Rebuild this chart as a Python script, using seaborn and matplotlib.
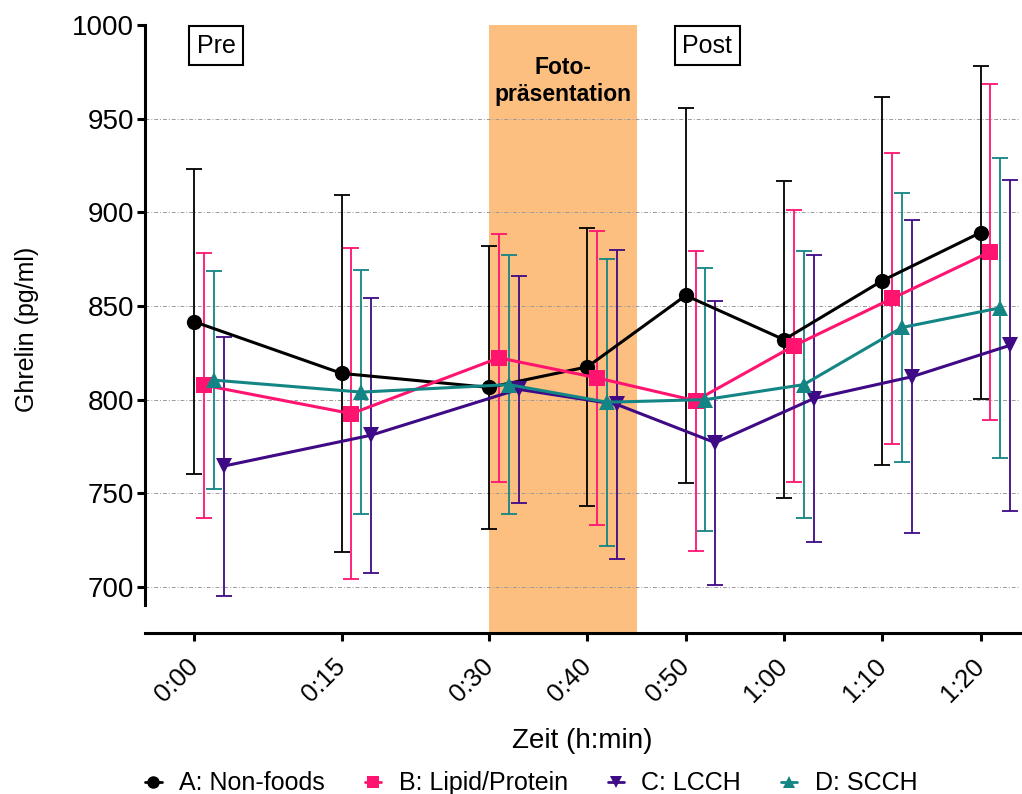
import matplotlib
matplotlib.use('Agg')
import matplotlib.pyplot as plt
import numpy as np
import pandas as pd
import seaborn as sns
from matplotlib.lines import Line2D

# ---------------- data ----------------
times = [0, 15, 30, 40, 50, 60, 70, 80]
tick_labels = ['0:00', '0:15', '0:30', '0:40', '0:50', '1:00', '1:10', '1:20']
groups = ['A: Non-foods', 'B: Lipid/Protein', 'C: LCCH', 'D: SCCH']

mean_a = [841.6, 814.0, 806.5, 817.5, 855.6, 832.0, 863.5, 889.2]
sd_a = [81.4, 95.5, 75.5, 74.3, 100.2, 84.6, 98.2, 88.9]
mean_b = [807.7, 792.5, 822.3, 811.6, 799.4, 828.7, 854.0, 879.0]
sd_b = [70.7, 88.5, 66.1, 78.6, 80.2, 72.5, 77.8, 89.7]
mean_c = [764.5, 781.0, 805.5, 797.4, 777.0, 800.5, 812.2, 829.0]
sd_c = [69.1, 73.4, 60.5, 82.6, 75.8, 76.5, 83.5, 88.5]
mean_d = [810.4, 804.0, 808.0, 798.6, 800.0, 808.0, 838.5, 849.0]
sd_d = [58.1, 65.2, 69.1, 76.7, 70.2, 71.2, 71.9, 80.1]

means = [mean_a, mean_b, mean_c, mean_d]
sds = [sd_a, sd_b, sd_c, sd_d]

# ---------------- styling ----------------
x_offsets = [0, 1, 3, 2]          # horizontal nudge (minutes) per group
colors = ['#000000', '#FF1470', '#3F0A85', '#138584']
markers = ['o', 's', 'v', '^']
band_color = '#FDBF80'

sns.set_theme(style='ticks')
plt.rcParams['font.family'] = ['Liberation Sans', 'DejaVu Sans']
for key in ['text.color', 'axes.labelcolor', 'xtick.color', 'ytick.color']:
    plt.rcParams[key] = 'black'

rows = []
for g, off, m, s in zip(groups, x_offsets, means, sds):
    for t, mv, sv in zip(times, m, s):
        rows.append({'group': g, 'x': t + off, 'mean': mv, 'sd': sv})
df = pd.DataFrame(rows)

fig = plt.figure(figsize=(10.22, 7.94), dpi=100)
ax = fig.add_axes([0.1419, 0.2028, 0.8561, 0.7657])

ax.set_xlim(-5, 84)
ax.set_ylim(675.4, 1000)

# presentation band
ax.axvspan(30, 45, color=band_color, zorder=0, lw=0)

# grid lines
for yv in [700, 750, 800, 850, 900, 950]:
    ax.axhline(yv, color='#9a9a9a', lw=0.7, ls=(0, (4, 2, 1, 2)), zorder=0.5)

# error bars
for g, c in zip(groups, colors):
    sub = df[df['group'] == g]
    ax.errorbar(sub['x'], sub['mean'], yerr=sub['sd'], fmt='none', ecolor=c,
                elinewidth=1.3, capsize=5.5, capthick=1.3, zorder=2)

# lines with markers
sns.lineplot(data=df, x='x', y='mean', hue='group', style='group',
             hue_order=groups, style_order=groups,
             palette=dict(zip(groups, colors)),
             markers=dict(zip(groups, markers)), dashes=False,
             markersize=11, markeredgewidth=0, linewidth=2.2,
             errorbar=None, sort=False, legend=False, ax=ax, zorder=3)

# axes styling
sns.despine(ax=ax)
ax.spines['left'].set_bounds(690.4, 1000)
for sp in ['left', 'bottom']:
    ax.spines[sp].set_linewidth(2.2)
    ax.spines[sp].set_color('black')
ax.set_yticks([700, 750, 800, 850, 900, 950, 1000])
ax.set_xticks(times)
ax.set_xticklabels(tick_labels, rotation=45, ha='right', va='center',
                   rotation_mode='anchor', fontsize=18.5)
ax.tick_params(axis='both', direction='out', length=6, width=2.2, color='black')
ax.tick_params(axis='y', labelsize=20, pad=2)
ax.tick_params(axis='x', pad=15)

ax.set_xlabel('Zeit (h:min)', fontsize=20, labelpad=15.5)
ax.set_ylabel('Ghrelin (pg/ml)', fontsize=18, labelpad=24)

# annotations
box = dict(boxstyle='square,pad=0.3', facecolor='white', edgecolor='black', lw=1.5)
ax.text(2.25, 988.8, 'Pre', fontsize=18, ha='center', va='center', bbox=box, zorder=5)
ax.text(52.2, 988.8, 'Post', fontsize=18, ha='center', va='center', bbox=box, zorder=5)
ax.text(37.5, 970, 'Foto-\npräsentation', fontsize=16.5, fontweight='bold',
        ha='center', va='center', multialignment='center', linespacing=1.2, zorder=5)

# legend
handles = [Line2D([0], [0], color=c, marker=m, ms=9, lw=2, markeredgewidth=0)
           for c, m in zip(colors, markers)]
fig.legend(handles, groups, loc='lower center', bbox_to_anchor=(0.52, -0.03),
           ncol=4, frameon=False, fontsize=18, handlelength=0.65,
           handletextpad=0.7, columnspacing=1.6)

fig.savefig('out.png', dpi=100)
